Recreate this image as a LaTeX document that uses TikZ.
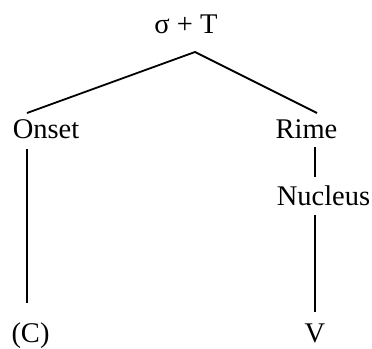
\documentclass[tikz,border=0pt]{standalone}
\usepackage{fontspec}
\setmainfont{Liberation Serif}
\newfontfamily\tms{Liberation Serif}
\begin{document}
\begin{tikzpicture}[x=1pt,y=-1pt,
  lab/.style={inner sep=0pt,anchor=base,font=\tms\fontsize{28.5}{30}\selectfont},
  edge/.style={line width=1.8pt}]
\useasboundingbox (0,0) rectangle (372,348);
\node[lab] (top) at (186,33) {σ + T};
\node[lab] (onset) at (46,138) {Onset};
\node[lab] (rime) at (306.5,138) {Rime};
\node[lab] (nucleus) at (323.5,205) {Nucleus};
\node[lab] (c) at (30.5,342) {(C)};
\node[lab] (v) at (315,342) {V};
\coordinate (apex) at ([shift={(9,19)}]top.base);
\draw[edge] ([shift={(-19,-25)}]onset.base) -- (apex) -- ([shift={(10.5,-25)}]rime.base);
\draw[edge] ([shift={(-19,11)}]onset.base) -- ([shift={(-3.5,-39)}]c.base);
\draw[edge] ([shift={(8.5,9)}]rime.base) -- ([shift={(-8.5,-28)}]nucleus.base);
\draw[edge] ([shift={(-8.5,10)}]nucleus.base) -- ([shift={(0,-30)}]v.base);
\end{tikzpicture}
\end{document}
